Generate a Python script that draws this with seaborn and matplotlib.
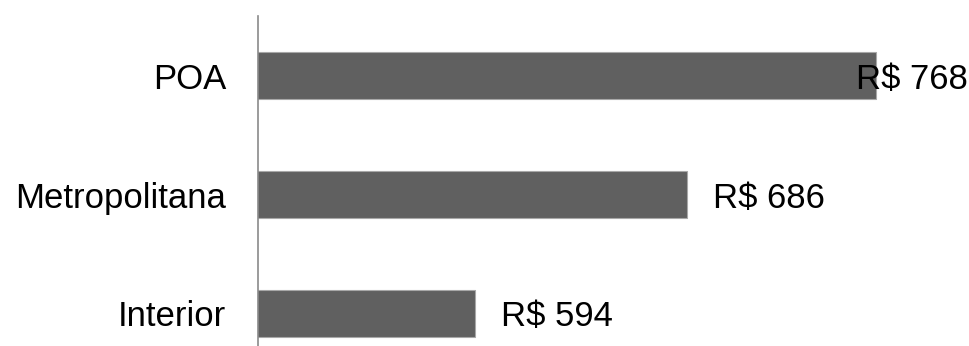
import matplotlib
matplotlib.use("Agg")
import matplotlib.pyplot as plt
import seaborn as sns
import pandas as pd

sns.set_style("white")
plt.rcParams['font.family'] = ['Liberation Sans', 'DejaVu Sans']

# data
regions = ["POA", "Metropolitana", "Interior"]
income = [768, 686, 594]
labels = ["R$ 768", "R$ 686", "R$ 594"]

df = pd.DataFrame({"regiao": regions, "renda": income})

fig = plt.figure(figsize=(9.7, 3.46), dpi=100)
ax = fig.add_axes([258 / 970, -27 / 346, 710 / 970, 357 / 346])

sns.barplot(data=df, x="renda", y="regiao", order=regions, orient="h",
            color="#606060", saturation=1, width=0.4,
            edgecolor="#a8a8a8", linewidth=0.8, ax=ax)

xmin, xmax = 500, 808
ax.set_xlim(xmin, xmax)
ax.set_ylim(2.5, -0.5)

fs = 25
for i, (v, lab) in enumerate(zip(income, labels)):
    if v > 740:
        # no room on the right, push label back over the bar end
        ax.text(xmax, i, lab, ha="right", va="center_baseline",
                fontsize=fs, color="black")
    else:
        ax.annotate(lab, xy=(v, i), xytext=(19, 0), textcoords="offset points",
                    ha="left", va="center_baseline", fontsize=fs, color="black")

ax.set_xlabel("")
ax.set_ylabel("")
ax.set_xticks([])
ax.tick_params(axis="y", length=0, pad=23, labelsize=fs, labelcolor="black")
for s in ["top", "right", "bottom"]:
    ax.spines[s].set_visible(False)
ax.spines["left"].set_color("#8a8a8a")
ax.spines["left"].set_linewidth(1.2)

fig.savefig("out.png", dpi=100)
